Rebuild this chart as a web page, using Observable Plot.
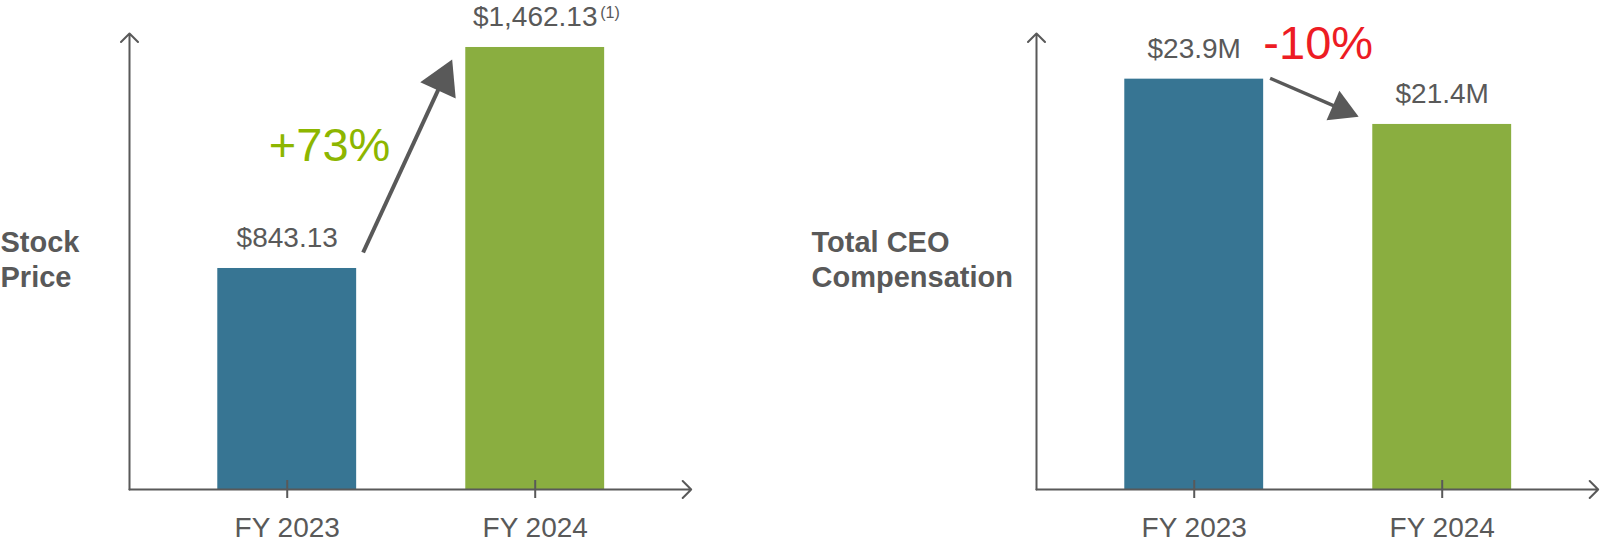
<!DOCTYPE html>
<html>
<head>
<meta charset="utf-8">
<script src="https://cdn.jsdelivr.net/npm/d3@7"></script>
<script src="https://cdn.jsdelivr.net/npm/@observablehq/plot@0.6"></script>
<style>
  html, body { margin: 0; padding: 0; background: #fff; }
  #wrap { position: relative; width: 1619px; height: 547px; overflow: hidden; font-family: "Liberation Sans", Arial, sans-serif; }
  #wrap > svg { position: absolute; top: 0; overflow: visible; }
</style>
</head>
<body>
<div id="wrap"></div>
<script>
// ---- data ----
const categories = ["FY 2023", "FY 2024"];
const stockPrice = [843.13, 1462.13];
const stockLabels = ["$843.13", "$1,462.13"];
const stockFootnote = "(1)";
const stockChange = "+73%";
const ceoComp = [23.9, 21.4];
const ceoLabels = ["$23.9M", "$21.4M"];
const ceoChange = "-10%";
const panelTitles = ["Stock\nPrice", "Total CEO\nCompensation"];

// ---- styles ----
const GREY = "#595959";
const BAR_COLORS = ["#377593", "#8AAE40"];
const FONT = "Liberation Sans, Arial, sans-serif";
const X_DOMAIN = [-0.636, 1.629];
const HALF = 0.28;

function panel(o) {
  const rows = categories.map((c, i) => ({i, c, v: o.values[i], label: o.labels[i]}));
  const [yMin, yTop] = o.yDomain;
  const xMin = X_DOMAIN[0], xMax = X_DOMAIN[1];
  const marks = [
    Plot.rectY(rows, {x1: d => d.i - HALF, x2: d => d.i + HALF, y1: yMin, y2: "v", fill: d => BAR_COLORS[d.i]}),
    // axes with open arrowheads
    Plot.arrow([{x1: xMin, y1: yMin, x2: xMin, y2: yTop}, {x1: xMin, y1: yMin, x2: xMax, y2: yMin}],
      {x1: "x1", y1: "y1", x2: "x2", y2: "y2", stroke: GREY, strokeWidth: 2, headLength: 9, headAngle: 90}),
    // tick marks crossing the x axis
    Plot.ruleX(rows, {x: "i", y1: yMin, y2: yMin, insetTop: -9, insetBottom: -9, stroke: GREY, strokeWidth: 2}),
    // category labels
    Plot.text(rows, {x: "i", y: yMin, text: "c", dy: 28, lineAnchor: "top", fontSize: 28, fill: GREY}),
    // value labels
    Plot.text(rows, {x: "i", y: "v", text: "label", dy: -21, lineAnchor: "bottom", fontSize: 28, fill: GREY}),
    // panel title
    Plot.text([o.title], {frameAnchor: "left", text: d => d, dx: o.titleX - o.marginLeft, dy: -3, textAnchor: "start",
      lineAnchor: "middle", lineHeight: 1.207, fontSize: 29, fontWeight: "bold", fill: GREY}),
    // change annotation
    Plot.text([o.change], {x: o.changePos[0], y: o.changePos[1], text: d => d, lineAnchor: "bottom",
      fontSize: 47, fill: o.changeColor, style: "letter-spacing:-1.5px"}),
    Plot.link([o.arrow], {x1: d => d.x1, y1: d => d.y1, x2: d => d.x2, y2: d => d.y2, stroke: GREY, strokeWidth: o.arrowWidth}),
    Plot.dot([o.arrow], {x: d => d.x2, y: d => d.y2, symbol: "triangle", r: o.headR, rotate: o.headRotate, fill: GREY, stroke: "none"})
  ];
  if (o.footnote) {
    marks.push(Plot.text([rows[1]], {x: "i", y: "v", text: () => o.footnote, dx: 65, dy: -29.5, lineAnchor: "bottom",
      textAnchor: "start", fontSize: 16, fill: GREY}));
  }
  const svg = Plot.plot({
    width: o.width, height: 547,
    marginTop: 33, marginBottom: 58, marginLeft: o.marginLeft, marginRight: o.marginRight,
    x: {domain: X_DOMAIN, axis: null},
    y: {domain: o.yDomain, axis: null},
    style: {fontFamily: FONT, overflow: "visible", background: "transparent"},
    marks
  });
  return svg;
}

const left = panel({
  values: stockPrice, labels: stockLabels, yDomain: [224.13, 1501.3],
  width: 800, marginLeft: 129, marginRight: 800 - 129 - 561.7,
  title: panelTitles[0], titleX: 0,
  change: stockChange, changeColor: "#8DB600", changePos: [0.171, 1142.8],
  arrow: {x1: 0.306, y1: 887.9, x2: 0.627, y2: 1370.8}, headR: 14.5, headRotate: 24.8, arrowWidth: 4,
  footnote: stockFootnote
});
left.style.left = "0px";

const right = panel({
  values: ceoComp, labels: ceoLabels, yDomain: [1.25, 26.42],
  width: 819, marginLeft: 236, marginRight: 819 - 236 - 561.7,
  title: panelTitles[1], titleX: 11,
  change: ceoChange, changeColor: "#ED1C24", changePos: [0.5, 25.0],
  arrow: {x1: 0.306, y1: 23.95, x2: 0.594, y2: 22.24}, headR: 12, headRotate: 113.4, arrowWidth: 3.5
});
right.style.left = "800px";

const wrap = document.getElementById("wrap");
wrap.appendChild(left);
wrap.appendChild(right);
</script>
</body>
</html>
